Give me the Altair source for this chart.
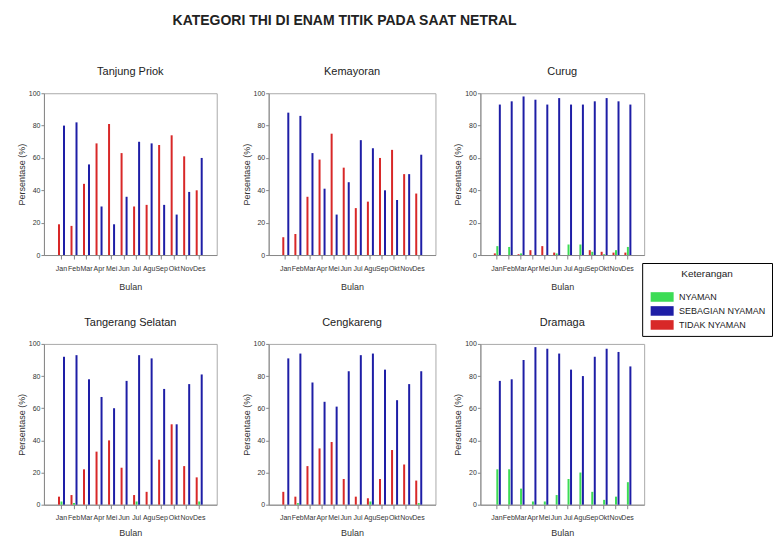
import altair as alt
import pandas as pd

months = ["Jan", "Feb", "Mar", "Apr", "Mei", "Jun", "Jul", "Agu", "Sep", "Okt", "Nov", "Des"]
categories = ["NYAMAN", "SEBAGIAN NYAMAN", "TIDAK NYAMAN"]
stations = ["Tanjung Priok", "Kemayoran", "Curug", "Tangerang Selatan", "Cengkareng", "Dramaga"]

# values per station: NYAMAN, SEBAGIAN NYAMAN, TIDAK NYAMAN
tp_ny = [0, 0, 0, 0, 0, 0, 0, 0, 0, 0, 0, 0]
tp_sb = [80, 82, 56, 30, 19, 36, 70, 69, 31, 25, 39, 60]
tp_td = [19, 18, 44, 69, 81, 63, 30, 31, 68, 74, 61, 40]

km_ny = [0, 0, 0, 0, 0, 0, 0, 0, 0, 0, 0, 0]
km_sb = [88, 86, 63, 41, 25, 45, 71, 66, 40, 34, 50, 62]
km_td = [11, 13, 36, 59, 75, 54, 29, 33, 60, 65, 50, 38]

cu_ny = [5.5, 5, 1, 0, 0, 1, 6.5, 6.5, 2, 0.5, 3, 5]
cu_sb = [93, 95, 98, 96, 93, 97, 93, 93, 95, 97, 95, 93]
cu_td = [1, 0, 0.5, 3, 5.5, 1.5, 0, 0, 3, 2, 1.5, 1.5]

ts_ny = [2, 1, 0, 0, 0, 0, 2, 0, 0, 0, 0, 2]
ts_sb = [92, 93, 78, 67, 60, 77, 93, 91, 72, 50, 75, 81]
ts_td = [5, 6, 22, 33, 40, 23, 6, 8, 28, 50, 24, 17]

ck_ny = [0, 1, 0, 0, 0, 0, 0, 2, 0, 0, 0, 1]
ck_sb = [91, 94, 76, 64, 61, 83, 93, 94, 84, 65, 75, 83]
ck_td = [8, 5, 24, 35, 39, 16, 5, 4, 16, 34, 25, 15]

dr_ny = [22, 22, 10, 2, 2, 6, 16, 20, 8, 3, 5, 14]
dr_sb = [77, 78, 90, 98, 97, 94, 84, 80, 92, 97, 95, 86]
dr_td = [0, 0, 0, 0, 0, 0, 0, 0, 0, 0, 0, 0]

series = {
    "Tanjung Priok": (tp_ny, tp_sb, tp_td),
    "Kemayoran": (km_ny, km_sb, km_td),
    "Curug": (cu_ny, cu_sb, cu_td),
    "Tangerang Selatan": (ts_ny, ts_sb, ts_td),
    "Cengkareng": (ck_ny, ck_sb, ck_td),
    "Dramaga": (dr_ny, dr_sb, dr_td),
}

rows = []
for st in stations:
    for cat, vals in zip(categories, series[st]):
        for m, v in zip(months, vals):
            rows.append({"Stasiun": st, "Bulan": m, "Kategori": cat, "Persentase": v})
df = pd.DataFrame(rows)

colors = ["#3cdc55", "#1e1ea6", "#d82828"]
FONT = "Liberation Sans"


def panel(st, w, h, show_legend=False, xtitle_pad=12):
    legend = None
    if show_legend:
        legend = alt.Legend(
            title="Keterangan",
            orient="none",
            legendX=599,
            legendY=170,
        )
    return (
        alt.Chart(df)
        .transform_filter(alt.datum.Stasiun == st)
        .mark_bar(size=2)
        .encode(
            x=alt.X(
                "Bulan:N",
                sort=months,
                scale=alt.Scale(paddingInner=0, paddingOuter=0.9),
                axis=alt.Axis(title="Bulan", labelAngle=0, labelOverlap=False,
                              labelFontSize=7, labelPadding=5, tickSize=4,
                              titlePadding=xtitle_pad, titleFontSize=9),
            ),
            xOffset=alt.XOffset(
                "Kategori:N",
                sort=["TIDAK NYAMAN", "NYAMAN", "SEBAGIAN NYAMAN"],
                scale=alt.Scale(paddingOuter=1, paddingInner=0),
            ),
            y=alt.Y(
                "Persentase:Q",
                scale=alt.Scale(domain=[0, 100]),
                axis=alt.Axis(title="Persentase (%)", values=[0, 20, 40, 60, 80, 100],
                              labelFontSize=7, tickSize=3, labelPadding=1,
                              titleFontSize=9, titlePadding=2, grid=False),
            ),
            color=alt.Color(
                "Kategori:N",
                scale=alt.Scale(domain=categories, range=colors),
                legend=legend,
            ),
        )
        .properties(width=w, height=h,
                    title=alt.TitleParams(st, fontSize=11, fontWeight="normal", offset=12))
    )


row1 = alt.hconcat(
    alt.hconcat(panel(stations[0], 173, 162, True), panel(stations[1], 167, 162), spacing=23),
    panel(stations[2], 164, 162),
    spacing=16,
)
row2 = alt.hconcat(
    alt.hconcat(panel(stations[3], 173, 161, xtitle_pad=8),
                panel(stations[4], 167, 161, xtitle_pad=8), spacing=23),
    panel(stations[5], 164, 161, xtitle_pad=8),
    spacing=16,
)

chart = (
    alt.vconcat(row1, row2, spacing=23)
    .properties(
        padding={"left": 8, "top": 5, "right": 0, "bottom": 0},
        title=alt.TitleParams(
            "KATEGORI THI DI ENAM TITIK PADA SAAT NETRAL",
            fontSize=14, fontWeight="bold", anchor="start", dx=156, offset=38,
        ),
    )
    .configure(font=FONT)
    .configure_view(stroke="#aaaaaa", strokeWidth=1)
    .configure_axis(domainColor="#888888", tickColor="#888888", labelColor="#333333",
                    titleColor="#333333", titleFontWeight="normal")
    .configure_title(color="#222222")
    .configure_legend(
        strokeColor="black", fillColor="white", padding=6,
        titleAnchor="middle", titleFontSize=10, titleFontWeight="normal",
        titleColor="#222222", titlePadding=13,
        labelFontSize=9, labelColor="#222222", labelOffset=12, symbolOffset=9,
        symbolType="M-2.4,-1H2.4V1H-2.4Z", symbolSize=92,
        symbolStrokeWidth=0, symbolOpacity=1, rowPadding=4,
        cornerRadius=0, labelLimit=200,
    )
)

chart.save("out.html", embed_options={"renderer": "svg", "actions": False})
